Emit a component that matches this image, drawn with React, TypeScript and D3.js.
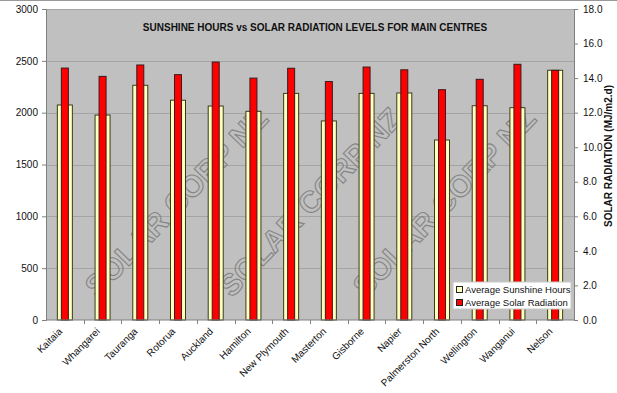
import { useEffect, useRef } from "react";
import * as d3 from "d3";

const centres = [
  "Kaitaia",
  "Whangarei",
  "Tauranga",
  "Rotorua",
  "Auckland",
  "Hamilton",
  "New Plymouth",
  "Masterton",
  "Gisborne",
  "Napier",
  "Palmerston North",
  "Wellington",
  "Wanganui",
  "Nelson",
];
const sunshineHours = [2074, 1977, 2264, 2120, 2064, 2013, 2186, 1920, 2186, 2190, 1736, 2067, 2048, 2409];
const solarRadiation = [14.58, 14.1, 14.76, 14.2, 14.93, 14.0, 14.57, 13.8, 14.64, 14.48, 13.33, 13.93, 14.8, 14.45];
const leftTicks = [0, 500, 1000, 1500, 2000, 2500, 3000];
const rightTicks = [0, 2, 4, 6, 8, 10, 12, 14, 16, 18];
const watermarks = ["SOLAR CORP NZ", "SOLAR CORP NZ", "SOLAR CORP NZ"];

const W = 617;
const H = 393;
const FONT = "'Liberation Sans', Arial, sans-serif";

const App = () => {
  const svgRef = useRef<SVGSVGElement>(null);

  useEffect(() => {
    const svg = d3.select(svgRef.current);
    svg.selectAll("*").remove();
    const margin = { top: 9, right: 43, bottom: 73, left: 46 };
    const x = d3
      .scaleBand()
      .domain(centres)
      .range([margin.left, W - margin.right])
      .padding(0);
    const yL = d3.scaleLinear().domain([0, 3000]).range([H - margin.bottom, margin.top]);
    const yR = d3.scaleLinear().domain([0, 18]).range([H - margin.bottom, margin.top]);

    svg.append("rect").attr("width", W).attr("height", H).attr("fill", "#fff");
    svg.append("line").attr("x1", 0).attr("x2", W).attr("y1", 0.5).attr("y2", 0.5).attr("stroke", "#999");

    // plot area
    svg
      .append("rect")
      .attr("x", margin.left)
      .attr("y", margin.top)
      .attr("width", W - margin.left - margin.right)
      .attr("height", H - margin.top - margin.bottom)
      .attr("fill", "#c0c0c0");

    svg
      .append("g")
      .selectAll("line")
      .data(leftTicks.slice(1))
      .join("line")
      .attr("x1", margin.left)
      .attr("x2", W - margin.right)
      .attr("y1", (d) => Math.round(yL(d)) + 0.5)
      .attr("y2", (d) => Math.round(yL(d)) + 0.5)
      .attr("stroke", "#a4a4a4");

    // watermark
    const wm = svg.append("g");
    watermarks.forEach((t, i) => {
      wm.append("text")
        .attr("transform", `translate(${178 + i * 134},${204}) rotate(-46)`)
        .attr("text-anchor", "middle")
        .attr("dominant-baseline", "middle")
        .attr("font-family", FONT)
        .attr("font-weight", "bold")
        .attr("font-size", 30)
        .attr("fill", "none")
        .attr("stroke", "#858585")
        .attr("stroke-width", 1.1)
        .text(t);
    });

    // bars
    const bars = svg.append("g");
    bars
      .selectAll("rect.sun")
      .data(sunshineHours)
      .join("rect")
      .attr("class", "sun")
      .attr("x", (d, i) => x(centres[i])! + x.bandwidth() / 2 - 7.5)
      .attr("width", 15)
      .attr("y", (d) => yL(d))
      .attr("height", (d) => yL(0) - yL(d))
      .attr("fill", "#ffffc0")
      .attr("stroke", "#3a3a1a")
      .attr("stroke-width", 1);
    bars
      .selectAll("rect.rad")
      .data(solarRadiation)
      .join("rect")
      .attr("class", "rad")
      .attr("x", (d, i) => x(centres[i])! + x.bandwidth() / 2 - 3.5)
      .attr("width", 7)
      .attr("y", (d) => yR(d))
      .attr("height", (d) => yR(0) - yR(d))
      .attr("fill", "#ff0000")
      .attr("stroke", "#3a1a1a")
      .attr("stroke-width", 1);

    // left axis
    const gl = svg
      .append("g")
      .attr("transform", `translate(${margin.left},0)`)
      .call(d3.axisLeft(yL).tickValues(leftTicks).tickSize(4).tickPadding(4).tickFormat(d3.format("d")));
    gl.selectAll("path,line").attr("stroke", "#808080");
    gl.selectAll("text").attr("font-family", FONT).attr("font-size", 10).attr("fill", "#111");

    // right axis
    const gr = svg
      .append("g")
      .attr("transform", `translate(${W - margin.right},0)`)
      .call(d3.axisRight(yR).tickValues(rightTicks).tickSize(4).tickPadding(5).tickFormat(d3.format(".1f")));
    gr.selectAll("path,line").attr("stroke", "#808080");
    gr.selectAll("text").attr("font-family", FONT).attr("font-size", 10).attr("fill", "#111");

    // bottom axis
    const gb = svg.append("g").attr("transform", `translate(0,${H - margin.bottom})`);
    gb.append("line")
      .attr("x1", margin.left)
      .attr("x2", W - margin.right)
      .attr("stroke", "#808080");
    gb.selectAll("line.tk")
      .data(centres.slice(1))
      .join("line")
      .attr("class", "tk")
      .attr("x1", (d) => Math.round(x(d)!) + 0.5)
      .attr("x2", (d) => Math.round(x(d)!) + 0.5)
      .attr("y1", 0)
      .attr("y2", 4)
      .attr("stroke", "#808080");
    gb.selectAll("text")
      .data(centres)
      .join("text")
      .attr("transform", (d) => `translate(${x(d)! + x.bandwidth() / 2 - 2},${12}) rotate(-45)`)
      .attr("text-anchor", "end")
      .attr("font-family", FONT)
      .attr("font-size", 10)
      .attr("fill", "#111")
      .text((d) => d);

    // title
    svg
      .append("text")
      .attr("x", 315)
      .attr("y", 31)
      .attr("text-anchor", "middle")
      .attr("font-family", FONT)
      .attr("font-weight", "bold")
      .attr("font-size", 10)
      .attr("fill", "#111")
      .text("SUNSHINE HOURS vs SOLAR RADIATION LEVELS FOR MAIN CENTRES");

    // right axis title
    svg
      .append("text")
      .attr("transform", `translate(${612},${156}) rotate(-90)`)
      .attr("text-anchor", "middle")
      .attr("font-family", FONT)
      .attr("font-weight", "bold")
      .attr("font-size", 10)
      .attr("fill", "#111")
      .text("SOLAR RADIATION (MJ/m2.d)");

    // legend
    const lg = svg.append("g").attr("transform", "translate(453,282)");
    lg.append("rect").attr("width", 118).attr("height", 27).attr("fill", "#fff").attr("stroke", "#c8c8c8");
    const items = [
      { label: "Average Sunshine Hours", color: "#ffffc0" },
      { label: "Average Solar Radiation", color: "#ff0000" },
    ];
    items.forEach((it, i) => {
      lg.append("rect")
        .attr("x", 3.5)
        .attr("y", 4.5 + i * 13)
        .attr("width", 6)
        .attr("height", 6)
        .attr("fill", it.color)
        .attr("stroke", "#222");
      lg.append("text")
        .attr("x", 12)
        .attr("y", 11 + i * 13)
        .attr("font-family", FONT)
        .attr("font-size", 9.5)
        .attr("fill", "#111")
        .text(it.label);
    });
  }, []);

  return (
    <svg
      ref={svgRef}
      width={W}
      height={H}
      style={{ position: "absolute", left: 0, top: 0, display: "block" }}
    />
  );
};

export default App;
